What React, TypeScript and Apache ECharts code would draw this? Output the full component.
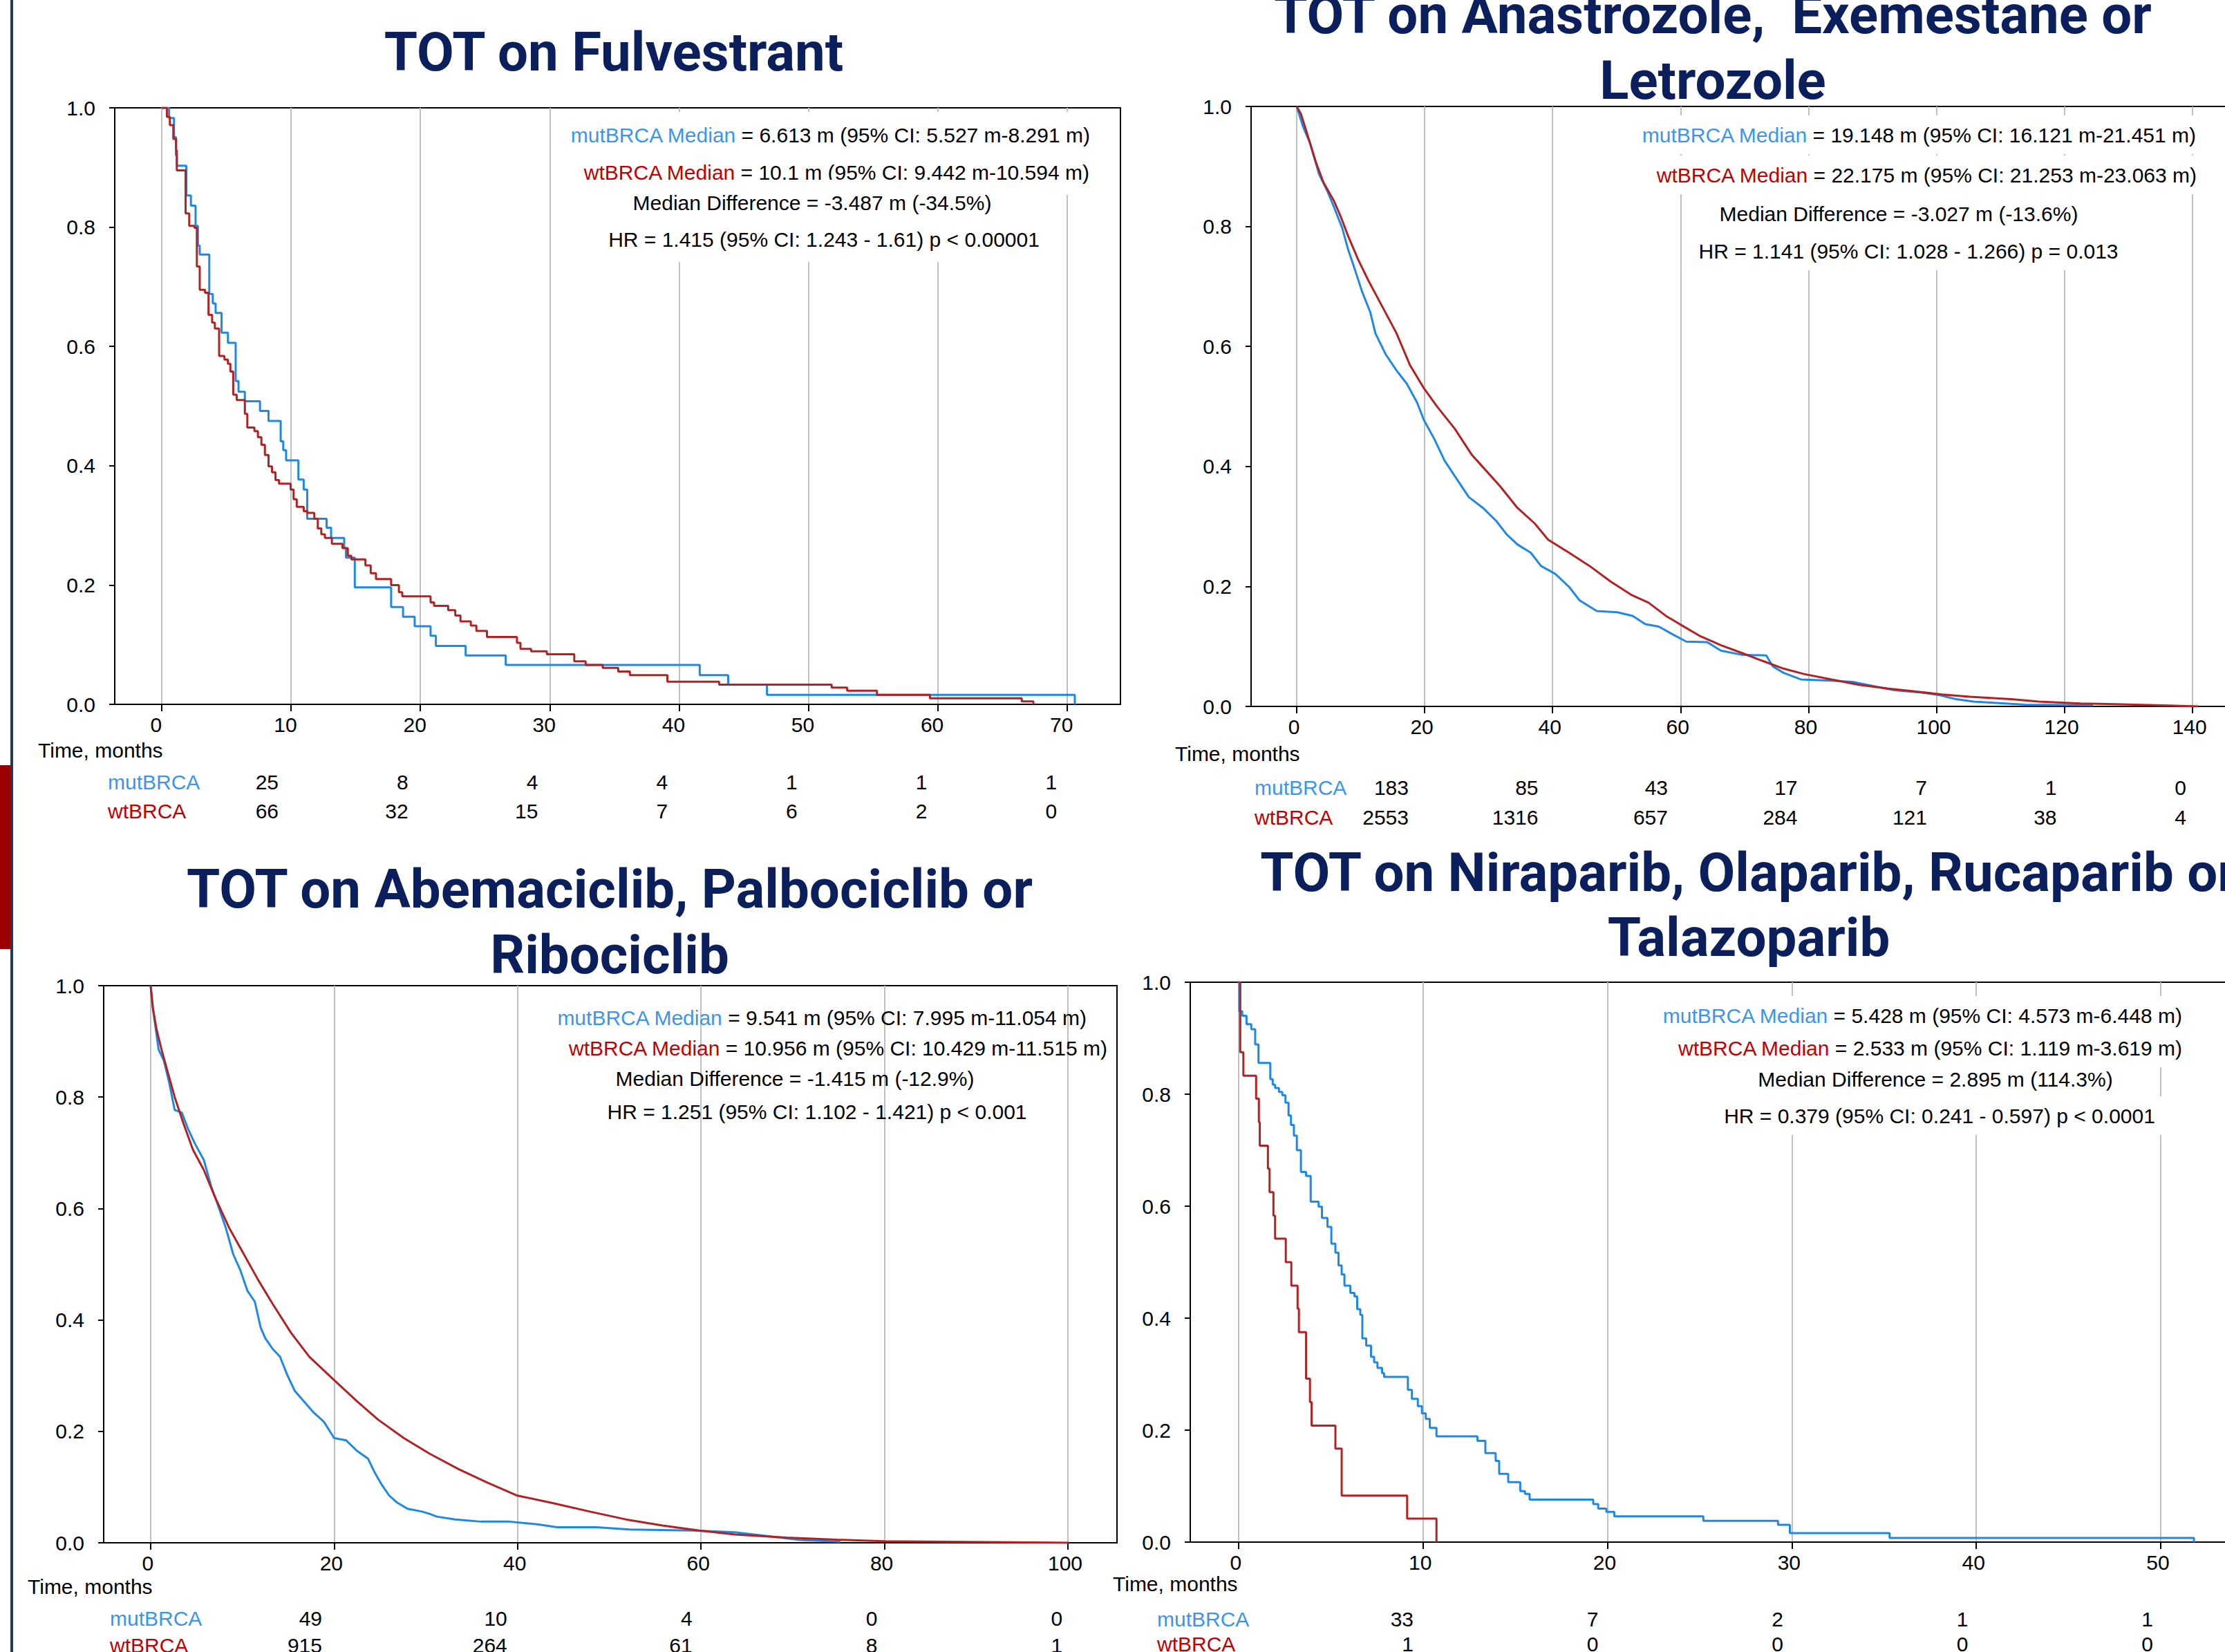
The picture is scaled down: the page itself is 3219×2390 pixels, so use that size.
import React, { useEffect, useRef } from "react";
import * as echarts from "echarts";

const W = 3219;
const H = 2390;
const FONT = '"Liberation Sans", Arial, sans-serif';
const TITLE_FONT = 'Roboto, "Noto Sans", sans-serif';
const BLUE = "#1e88e5";
const RED = "#b22222";
const BLUE_TXT = "#3d95e8";
const RED_TXT = "#c00000";
const NAVY = "#0b1f5c";

// ---------- Tick values ----------
const yTicks = [0, 0.2, 0.4, 0.6, 0.8, 1.0];
const fulvTicks = [0, 10, 20, 30, 40, 50, 60, 70];
const aiTicks = [0, 20, 40, 60, 80, 100, 120, 140];
const cdkTicks = [0, 20, 40, 60, 80, 100];
const parpTicks = [0, 10, 20, 30, 40, 50];

// ---------- KM curves: [month, survival] ----------
const fulvMut: [number, number][] = [
  [0, 1], [0.57, 0.983], [0.95, 0.951], [1.1, 0.92], [1.17, 0.903], [1.9, 0.853], [2.26, 0.836],
  [2.62, 0.802], [2.8, 0.769], [2.94, 0.754], [3.68, 0.688], [3.95, 0.672], [4.17, 0.656],
  [4.63, 0.623], [5.12, 0.606], [5.72, 0.542], [5.94, 0.524], [6.43, 0.508], [7.6, 0.492],
  [8.26, 0.475], [9.2, 0.441], [9.4, 0.426], [9.62, 0.409], [10.57, 0.377], [10.98, 0.36],
  [11.25, 0.311], [12.75, 0.296], [13.1, 0.279], [14.11, 0.262], [14.25, 0.246], [14.93, 0.196],
  [17.74, 0.163], [18.66, 0.147], [19.56, 0.131], [20.79, 0.115], [21.2, 0.098], [23.5, 0.082],
  [26.6, 0.066], [41.6, 0.049], [43.8, 0.033], [46.8, 0.016], [70.6, 0],
];
const fulvWt: [number, number][] = [
  [0, 1], [0.4, 0.985], [0.63, 0.971], [0.9, 0.948], [1.12, 0.929], [1.17, 0.895], [1.85, 0.823],
  [2.13, 0.802], [2.53, 0.799], [2.72, 0.734], [2.94, 0.695], [3.35, 0.69], [3.62, 0.653],
  [3.9, 0.64], [4.11, 0.63], [4.44, 0.584], [4.85, 0.578], [5.12, 0.571], [5.31, 0.558],
  [5.53, 0.519], [5.8, 0.51], [6.43, 0.487], [6.62, 0.464], [7.17, 0.458], [7.44, 0.448],
  [7.71, 0.435], [7.98, 0.418], [8.26, 0.399], [8.53, 0.389], [8.8, 0.376], [9.07, 0.37],
  [9.97, 0.36], [10.2, 0.344], [10.44, 0.331], [10.98, 0.324], [11.25, 0.321], [11.8, 0.311],
  [12.07, 0.295], [12.34, 0.285], [12.62, 0.279], [13.16, 0.269], [13.98, 0.262], [14.39, 0.249],
  [14.66, 0.243], [15.75, 0.233], [16.16, 0.22], [16.57, 0.21], [17.74, 0.2], [18.34, 0.188],
  [18.6, 0.181], [20.79, 0.171], [21.06, 0.165], [22.15, 0.158], [22.7, 0.149], [23.1, 0.139],
  [23.9, 0.132], [24.33, 0.123], [25.15, 0.113], [27.47, 0.103], [27.74, 0.093], [28.56, 0.089],
  [29.78, 0.084], [31.9, 0.072], [32.78, 0.066], [34.1, 0.061], [35.3, 0.055], [36.2, 0.049],
  [39.1, 0.038], [43.1, 0.033], [51.8, 0.028], [53.0, 0.023], [55.3, 0.016], [59.4, 0.01],
  [66.5, 0.005], [67.4, 0],
];
const aiMut: [number, number][] = [
  [0, 1], [1.0, 0.966], [2.05, 0.94], [3.5, 0.887], [4.75, 0.86], [5.8, 0.833], [7.1, 0.798],
  [8.0, 0.763], [9.1, 0.728], [10.2, 0.692], [11.5, 0.657], [12.3, 0.622], [13.9, 0.587],
  [15.6, 0.56], [17.2, 0.538], [18.8, 0.507], [19.9, 0.477], [21.5, 0.446], [23.1, 0.41],
  [24.7, 0.384], [26.9, 0.349], [29.1, 0.331], [31.2, 0.309], [32.8, 0.287], [34.5, 0.27],
  [36.6, 0.256], [38.2, 0.234], [40.4, 0.221], [42.6, 0.199], [44.2, 0.177], [46.9, 0.159],
  [50.1, 0.157], [52.5, 0.151], [54.5, 0.137], [56.6, 0.133], [58.8, 0.12], [60.9, 0.108],
  [64.2, 0.107], [66.3, 0.093], [69.6, 0.086], [73.4, 0.085], [74.4, 0.067], [76.1, 0.056],
  [78.8, 0.045], [83.6, 0.043], [86.9, 0.041], [90.1, 0.034], [93.4, 0.027], [97.7, 0.023],
  [100.4, 0.019], [103.1, 0.012], [105.8, 0.008], [113.9, 0.003], [124.5, 0.002],
];
const aiWt: [number, number][] = [
  [0, 1], [0.65, 0.988], [1.3, 0.966], [2.05, 0.94], [3.1, 0.904], [4.2, 0.873], [5.8, 0.843],
  [6.9, 0.816], [8.0, 0.785], [9.6, 0.745], [11.2, 0.71], [13.4, 0.666], [15.6, 0.622],
  [17.7, 0.569], [19.9, 0.53], [22.0, 0.499], [24.7, 0.463], [27.4, 0.419], [29.6, 0.393],
  [31.8, 0.367], [34.5, 0.331], [37.2, 0.305], [39.3, 0.278], [42.6, 0.256], [45.8, 0.234],
  [49.1, 0.208], [52.3, 0.186], [55.0, 0.173], [57.7, 0.151], [59.9, 0.137], [63.1, 0.117],
  [66.3, 0.102], [69.6, 0.089], [72.8, 0.076], [76.1, 0.063], [79.3, 0.054], [83.6, 0.045],
  [87.9, 0.036], [92.3, 0.03], [96.6, 0.025], [100.9, 0.02], [105.2, 0.016], [111.7, 0.012],
  [116.0, 0.008], [122.5, 0.005], [129.0, 0.0035], [135.5, 0.0018], [140.9, 0],
];
const cdkMut: [number, number][] = [
  [0, 1], [0.24, 0.96], [0.87, 0.885], [1.43, 0.866], [1.98, 0.829], [2.62, 0.777], [3.4, 0.772],
  [4.05, 0.744], [4.84, 0.716], [5.8, 0.687], [6.6, 0.64], [7.4, 0.603], [8.2, 0.565], [9.0, 0.518],
  [9.76, 0.49], [10.56, 0.452], [11.35, 0.433], [12.0, 0.386], [12.5, 0.367], [13.3, 0.348],
  [14.1, 0.334], [14.9, 0.301], [15.7, 0.273], [16.7, 0.254], [17.7, 0.235], [18.9, 0.217],
  [20.0, 0.188], [21.3, 0.184], [22.5, 0.165], [23.7, 0.151], [24.4, 0.127], [25.2, 0.104],
  [26.0, 0.085], [26.8, 0.073], [28.0, 0.061], [29.6, 0.056], [30.4, 0.052], [31.2, 0.047],
  [33.2, 0.042], [36.0, 0.038], [39.1, 0.038], [42.3, 0.033], [44.3, 0.028], [48.6, 0.028],
  [52.2, 0.024], [59.0, 0.022], [63.7, 0.019], [70.9, 0.005], [75.2, 0.002],
];
const cdkWt: [number, number][] = [
  [0, 1], [0.24, 0.96], [0.63, 0.923], [1.19, 0.885], [1.83, 0.847], [2.62, 0.8], [3.57, 0.753],
  [4.6, 0.706], [5.8, 0.669], [7.0, 0.621], [8.57, 0.565], [10.16, 0.518], [11.75, 0.471],
  [13.33, 0.428], [15.3, 0.377], [17.3, 0.334], [20.0, 0.292], [22.5, 0.254], [24.8, 0.221],
  [27.6, 0.188], [30.4, 0.16], [33.6, 0.132], [36.7, 0.108], [39.9, 0.085], [43.9, 0.071],
  [47.9, 0.056], [51.8, 0.042], [55.8, 0.031], [59.8, 0.022], [63.7, 0.015], [69.3, 0.0094],
  [74.8, 0.0056], [80.0, 0.0028], [86.7, 0.0019], [100.1, 0],
];
const parpMut: [number, number][] = [
  [0, 1], [0.04, 0.948], [0.2, 0.94], [0.43, 0.925], [0.69, 0.916], [0.9, 0.889], [1.08, 0.856],
  [1.72, 0.827], [1.85, 0.817], [1.98, 0.811], [2.19, 0.804], [2.37, 0.798], [2.54, 0.785],
  [2.71, 0.762], [2.84, 0.745], [3.0, 0.726], [3.16, 0.7], [3.38, 0.661], [3.66, 0.654],
  [3.91, 0.608], [4.34, 0.599], [4.52, 0.579], [4.82, 0.563], [5.03, 0.533], [5.25, 0.517],
  [5.42, 0.494], [5.59, 0.478], [5.74, 0.458], [6.06, 0.445], [6.28, 0.439], [6.43, 0.416],
  [6.6, 0.406], [6.71, 0.364], [6.92, 0.351], [7.18, 0.331], [7.35, 0.321], [7.53, 0.311],
  [7.78, 0.302], [7.89, 0.295], [9.18, 0.272], [9.4, 0.256], [9.72, 0.243], [9.94, 0.23],
  [10.15, 0.22], [10.37, 0.204], [10.73, 0.189], [12.95, 0.181], [13.38, 0.159], [13.94, 0.145],
  [14.13, 0.122], [14.62, 0.107], [15.27, 0.091], [15.53, 0.086], [15.78, 0.076], [19.23, 0.068],
  [19.5, 0.06], [19.94, 0.054], [20.37, 0.046], [25.2, 0.038], [29.25, 0.031], [29.89, 0.016],
  [35.3, 0.0075], [51.8, 0],
];
const parpWt: [number, number][] = [
  [0, 1], [0.09, 0.875], [0.26, 0.833], [0.95, 0.792], [1.1, 0.75], [1.15, 0.708], [1.59, 0.667],
  [1.68, 0.625], [1.89, 0.583], [1.98, 0.542], [2.56, 0.5], [2.86, 0.458], [3.2, 0.417],
  [3.27, 0.375], [3.66, 0.292], [3.87, 0.25], [3.96, 0.208], [5.25, 0.167], [5.59, 0.083],
  [9.14, 0.042], [10.73, 0],
];

// ---------- Numbers at risk ----------
const fulvRiskMut = [25, 8, 4, 4, 1, 1, 1];
const fulvRiskWt = [66, 32, 15, 7, 6, 2, 0];
const aiRiskMut = [183, 85, 43, 17, 7, 1, 0];
const aiRiskWt = [2553, 1316, 657, 284, 121, 38, 4];
const cdkRiskMut = [49, 10, 4, 0, 0];
const cdkRiskWt = [915, 264, 61, 8, 1];
const parpRiskMut = [33, 7, 2, 1, 1];
const parpRiskWt = [1, 0, 0, 0, 0];

// ---------- Titles & stats ----------
const fulvTitle = ["TOT on Fulvestrant"];
const aiTitle = ["TOT on Anastrozole,  Exemestane or", "Letrozole"];
const cdkTitle = ["TOT on Abemaciclib, Palbociclib or", "Ribociclib"];
const parpTitle = ["TOT on Niraparib, Olaparib, Rucaparib or", "Talazoparib"];

const fulvStats = [
  " = 6.613 m (95% CI: 5.527 m-8.291 m)",
  " = 10.1 m (95% CI: 9.442 m-10.594 m)",
  "Median Difference = -3.487 m (-34.5%)",
  "HR = 1.415 (95% CI: 1.243 - 1.61) p < 0.00001",
];
const aiStats = [
  " = 19.148 m (95% CI: 16.121 m-21.451 m)",
  " = 22.175 m (95% CI: 21.253 m-23.063 m)",
  "Median Difference = -3.027 m (-13.6%)",
  "HR = 1.141 (95% CI: 1.028 - 1.266) p = 0.013",
];
const cdkStats = [
  " = 9.541 m (95% CI: 7.995 m-11.054 m)",
  " = 10.956 m (95% CI: 10.429 m-11.515 m)",
  "Median Difference = -1.415 m (-12.9%)",
  "HR = 1.251 (95% CI: 1.102 - 1.421) p < 0.001",
];
const parpStats = [
  " = 5.428 m (95% CI: 4.573 m-6.448 m)",
  " = 2.533 m (95% CI: 1.119 m-3.619 m)",
  "Median Difference = 2.895 m (114.3%)",
  "HR = 0.379 (95% CI: 0.241 - 0.597) p < 0.0001",
];

// ---------- Layout (positions only) ----------
const panels = [
  {
    grid: { left: 166, top: 156, width: 1455, height: 863 },
    xMin: -3.63, xMax: 74.13, ticks: fulvTicks, labelPad: 16, step: true,
    mut: fulvMut, wt: fulvWt, riskMut: fulvRiskMut, riskWt: fulvRiskWt,
    title: fulvTitle, titleX: 888, titleY: [75],
    stats: fulvStats, statBg: true, statPadV: 18,
    statPos: [[1587, 195], [1586, 249], [1175, 293], [1192, 346]],
    timeXY: [55, 1085], rowLabelX: 156, riskY: [1131, 1173], riskRight0: 403, riskStep: 187.7,
  },
  {
    grid: { left: 1810, top: 154, width: 1415, height: 868 },
    xMin: -7.13, xMax: 145.76, ticks: aiTicks, labelPad: 8, step: false,
    mut: aiMut, wt: aiWt, riskMut: aiRiskMut, riskWt: aiRiskWt,
    title: aiTitle, titleX: 2478, titleY: [21, 116],
    stats: aiStats, statBg: true, statPadV: 13,
    statPos: [[3187, 195], [3188, 253], [2747, 309], [2761, 363]],
    timeXY: [1700, 1090], rowLabelX: 1815, riskY: [1139, 1182], riskRight0: 2038, riskStep: 187.5,
  },
  {
    grid: { left: 150, top: 1426, width: 1466, height: 806 },
    xMin: -5.12, xMax: 105.35, ticks: cdkTicks, labelPad: 8, step: false,
    mut: cdkMut, wt: cdkWt, riskMut: cdkRiskMut, riskWt: cdkRiskWt,
    title: cdkTitle, titleX: 882, titleY: [1286, 1381],
    stats: cdkStats, statBg: false, statPadV: 0,
    statPos: [[1572, 1472], [1602, 1516], [1150, 1560], [1182, 1608]],
    timeXY: [40, 2295], rowLabelX: 159, riskY: [2341, 2380], riskRight0: 466, riskStep: 267.8,
  },
  {
    grid: { left: 1722, top: 1421, width: 1503, height: 810 },
    xMin: -2.62, xMax: 53.71, ticks: parpTicks, labelPad: 8, step: true,
    mut: parpMut, wt: parpWt, riskMut: parpRiskMut, riskWt: parpRiskWt,
    title: parpTitle, titleX: 2530, titleY: [1262, 1356],
    stats: parpStats, statBg: true, statPadV: 13,
    statPos: [[3167, 1469], [3167, 1516], [2800, 1561], [2806, 1614]],
    timeXY: [1610, 2291], rowLabelX: 1674, riskY: [2342, 2378], riskRight0: 2045, riskStep: 267.5,
  },
];

function txt(x: number, y: number, text: string, opts: any = {}) {
  const align = opts.align || "left";
  return {
    type: "text",
    x,
    y,
    z: opts.z || 50,
    silent: true,
    style: {
      text,
      fill: opts.fill || "#000",
      fontSize: opts.fontSize || 30,
      fontFamily: opts.fontFamily || FONT,
      fontWeight: opts.fontWeight || "normal",
      align,
      textAlign: align,
      verticalAlign: "middle",
      textVerticalAlign: "middle",
      backgroundColor: opts.bg,
      padding: opts.padding,
      rich: opts.rich,
    },
  };
}

function buildOption() {
  const grids: any[] = [];
  const xAxes: any[] = [];
  const yAxes: any[] = [];
  const series: any[] = [];
  const graphics: any[] = [];

  // left decoration
  graphics.push({ type: "rect", shape: { x: 0, y: 1107, width: 15, height: 266 }, style: { fill: "#9c0000" }, silent: true });
  graphics.push({ type: "rect", shape: { x: 15, y: 0, width: 4, height: H }, style: { fill: "#1f3864" }, silent: true });

  panels.forEach((p, i) => {
    grids.push({ ...p.grid, show: true, borderColor: "#000", borderWidth: 2, backgroundColor: "transparent", containLabel: false, outerBoundsMode: "none" });
    xAxes.push({
      type: "value", gridIndex: i, min: p.xMin, max: p.xMax,
      axisLine: { show: true, onZero: false, lineStyle: { color: "#000", width: 2 } },
      axisTick: { show: true, length: 10, customValues: p.ticks, lineStyle: { color: "#000", width: 2 } },
      axisLabel: {
        show: true, customValues: p.ticks, margin: 14, fontSize: 30, fontFamily: FONT, color: "#000",
        padding: [0, p.labelPad, 0, 0],
      },
      splitLine: { show: true, lineStyle: { color: "#c0c0c0", width: 2 } },
    });
    yAxes.push({
      type: "value", gridIndex: i, min: yTicks[0], max: yTicks[yTicks.length - 1], interval: 0.2,
      axisLine: { show: true, onZero: false, lineStyle: { color: "#000", width: 2 } },
      axisTick: { show: true, length: 8, lineStyle: { color: "#000", width: 2 } },
      axisLabel: { show: true, margin: 28, fontSize: 30, fontFamily: FONT, color: "#000", formatter: (v: number) => v.toFixed(1) },
      splitLine: { show: false },
    });
    const common = {
      type: "line", xAxisIndex: i, yAxisIndex: i, showSymbol: false, symbol: "none",
      step: p.step ? "end" : false, smooth: false, silent: true, animation: false, z: 3,
    };
    series.push({ ...common, name: "mutBRCA", data: p.mut, lineStyle: { color: BLUE, width: 3 }, itemStyle: { color: BLUE } });
    series.push({ ...common, name: "wtBRCA", data: p.wt, lineStyle: { color: RED, width: 3 }, itemStyle: { color: RED } });

    // titles
    p.title.forEach((t, k) => {
      graphics.push(txt(p.titleX, p.titleY[k], t, { align: "center", fontSize: 78, fontFamily: TITLE_FONT, fontWeight: "bold", fill: NAVY }));
    });

    // stats
    const bg = p.statBg ? "#fff" : undefined;
    const pad = p.statBg ? [p.statPadV, 10, p.statPadV, 10] : undefined;
    const rich = {
      m: { fill: BLUE_TXT, color: BLUE_TXT, fontSize: 30, fontFamily: FONT },
      w: { fill: RED_TXT, color: RED_TXT, fontSize: 30, fontFamily: FONT },
    };
    graphics.push(txt(p.statPos[0][0], p.statPos[0][1], "{m|mutBRCA Median}" + p.stats[0], { align: "right", bg, padding: pad, rich, z: 60 }));
    graphics.push(txt(p.statPos[1][0], p.statPos[1][1], "{w|wtBRCA Median}" + p.stats[1], { align: "right", bg, padding: pad, rich, z: 60 }));
    graphics.push(txt(p.statPos[2][0], p.statPos[2][1], p.stats[2], { align: "center", bg, padding: pad, z: 60 }));
    graphics.push(txt(p.statPos[3][0], p.statPos[3][1], p.stats[3], { align: "center", bg, padding: pad, z: 60 }));

    // time label + risk table
    graphics.push(txt(p.timeXY[0], p.timeXY[1], "Time, months"));
    graphics.push(txt(p.rowLabelX, p.riskY[0], "mutBRCA", { fill: BLUE_TXT }));
    graphics.push(txt(p.rowLabelX, p.riskY[1], "wtBRCA", { fill: RED_TXT }));
    p.riskMut.forEach((v, k) => {
      graphics.push(txt(p.riskRight0 + k * p.riskStep, p.riskY[0], String(v), { align: "right" }));
    });
    p.riskWt.forEach((v, k) => {
      graphics.push(txt(p.riskRight0 + k * p.riskStep, p.riskY[1], String(v), { align: "right" }));
    });
  });

  return {
    animation: false,
    backgroundColor: "#fff",
    grid: grids,
    xAxis: xAxes,
    yAxis: yAxes,
    series,
    graphic: { elements: graphics },
  };
}

export default function App() {
  const ref = useRef<HTMLDivElement>(null);
  useEffect(() => {
    document.body.style.margin = "0";
    if (!ref.current) return;
    const chart = echarts.init(ref.current, undefined, { renderer: "svg", width: W, height: H });
    chart.setOption(buildOption() as any);
    return () => chart.dispose();
  }, []);
  return <div ref={ref} style={{ width: W, height: H, overflow: "hidden" }} />;
}
